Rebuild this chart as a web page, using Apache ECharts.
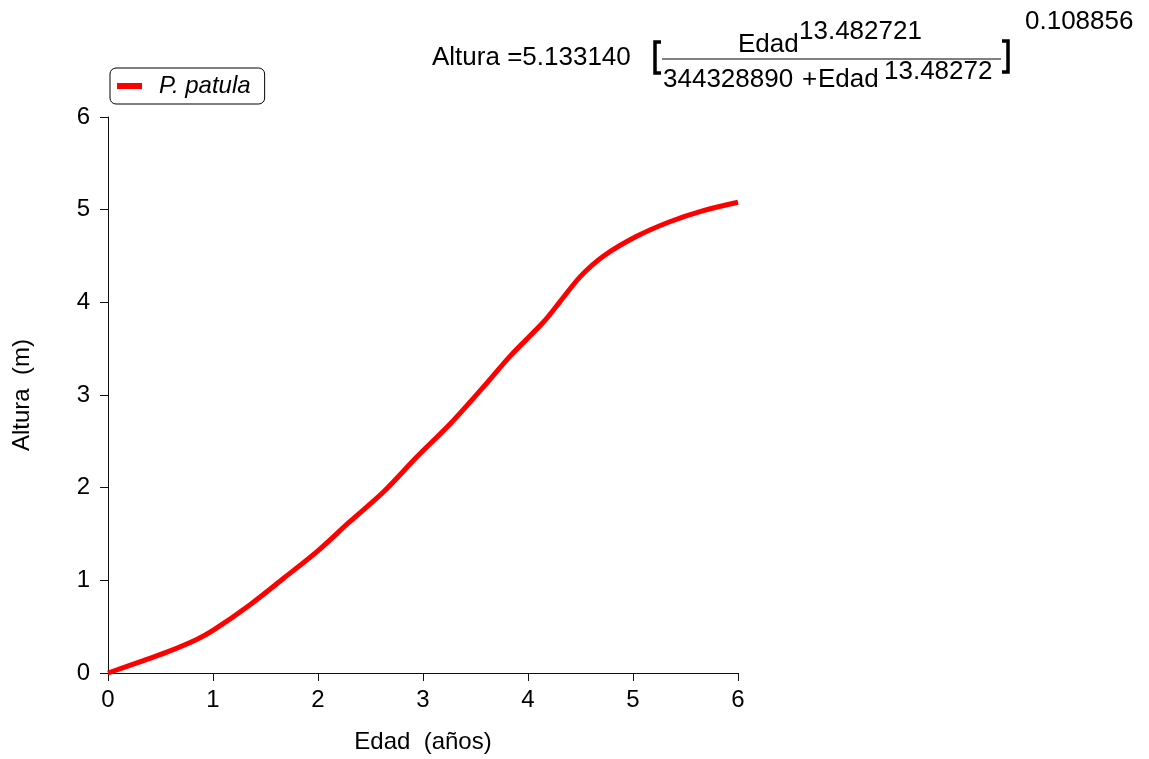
<!DOCTYPE html>
<html>
<head>
<meta charset="utf-8">
<script src="https://cdn.jsdelivr.net/npm/echarts@6/dist/echarts.min.js"></script>
<style>
html,body{margin:0;padding:0;background:#fff;}
#chart{width:1149px;height:759px;}
</style>
</head>
<body>
<div id="chart"></div>
<script>
var edad   = [0, 0.33, 0.56, 0.84, 1.0, 1.35, 1.67, 1.99, 2.30, 2.62, 2.94, 3.26, 3.57, 3.83, 4.15, 4.30, 4.50, 4.72, 5.03, 5.35, 5.67, 6.0];
var altura = [0, 0.13, 0.225, 0.36, 0.46, 0.735, 1.02, 1.31, 1.63, 1.95, 2.33, 2.69, 3.08, 3.42, 3.79, 4.00, 4.28, 4.50, 4.71, 4.87, 4.99, 5.08];
var seriesName = 'P. patula';
var xTitle = 'Edad  (años)';
var yTitle = 'Altura  (m)';
var eqLeft = 'Altura =5.133140';
var eqNumBase = 'Edad';
var eqNumExp = '13.482721';
var eqDenConst = '344328890';
var eqDenBase = 'Edad';
var eqDenExp = '13.48272';
var eqOuterExp = '0.108856';

var FONT = '"Liberation Sans", Arial, sans-serif';
var points = edad.map(function (x, i) { return [x, altura[i]]; });

function txt(s, x, y, size) {
  return {
    type: 'text', silent: true,
    style: {
      text: s, x: x, y: y, fill: '#000',
      font: (size || 26) + 'px ' + FONT,
      textAlign: 'left', textVerticalAlign: 'middle',
      align: 'left', verticalAlign: 'middle'
    }
  };
}

var chart = echarts.init(document.getElementById('chart'));
chart.setOption({
  animation: false,
  backgroundColor: '#fff',
  grid: { left: 108, right: 411, top: 117, bottom: 84, containLabel: false },
  legend: {
    left: 110, top: 68,
    orient: 'horizontal',
    padding: [6, 14, 6, 7],
    borderColor: '#000', borderWidth: 1, borderRadius: 6,
    icon: 'rect', itemWidth: 25, itemHeight: 6,
    data: [seriesName],
    formatter: function (n) { return '{a|' + n + '}'; },
    textStyle: {
      color: '#000', fontSize: 24, fontStyle: 'italic', fontFamily: FONT,
      rich: { a: { fontSize: 24, fontStyle: 'italic', fontFamily: FONT, color: '#000', padding: [0, 0, 0, 12] } }
    }
  },
  xAxis: {
    type: 'value', min: 0, max: 6, interval: 1,
    name: xTitle, nameLocation: 'middle', nameGap: 57,
    nameTextStyle: { color: '#000', fontSize: 24, fontFamily: FONT },
    axisLine: { show: true, onZero: false, lineStyle: { color: '#111', width: 1 } },
    axisTick: { show: true, length: 8, lineStyle: { color: '#111' } },
    axisLabel: { color: '#000', fontSize: 24, fontFamily: FONT, margin: 15 },
    splitLine: { show: false }
  },
  yAxis: {
    type: 'value', min: 0, max: 6, interval: 1,
    name: yTitle, nameLocation: 'middle', nameGap: 74, nameRotate: 90,
    nameTextStyle: { color: '#000', fontSize: 24, fontFamily: FONT },
    axisLine: { show: true, onZero: false, lineStyle: { color: '#111', width: 1 } },
    axisTick: { show: true, length: 8, lineStyle: { color: '#111' } },
    axisLabel: { color: '#000', fontSize: 24, fontFamily: FONT, margin: 18 },
    splitLine: { show: false }
  },
  series: [{
    name: seriesName, type: 'line', data: points,
    smooth: 0.3, showSymbol: false, symbol: 'none',
    lineStyle: { color: '#ff0000', width: 5 },
    itemStyle: { color: '#ff0000' }
  }],
  graphic: [
    txt(eqLeft, 432, 58),
    { type: 'polyline', silent: true, shape: { points: [[661, 42], [655, 42], [655, 73], [661, 73]] },
      style: { stroke: '#000', lineWidth: 3.5, fill: null } },
    txt(eqNumBase, 738, 45),
    txt(eqNumExp, 799, 32),
    { type: 'line', silent: true, shape: { x1: 662, y1: 59, x2: 1001, y2: 59 },
      style: { stroke: '#000', lineWidth: 1 } },
    txt(eqDenConst, 663, 80),
    txt('+', 802, 80, 26),
    txt(eqDenBase, 818, 80),
    txt(eqDenExp, 884, 72),
    { type: 'polyline', silent: true, shape: { points: [[1002, 41], [1008, 41], [1008, 72], [1002, 72]] },
      style: { stroke: '#000', lineWidth: 3.5, fill: null } },
    txt(eqOuterExp, 1025, 22)
  ]
});
</script>
</body>
</html>
